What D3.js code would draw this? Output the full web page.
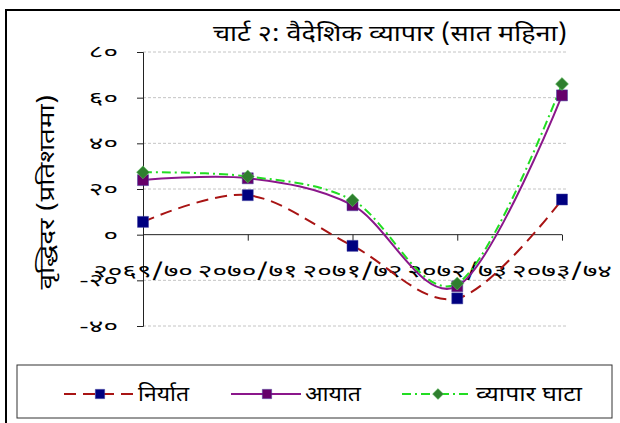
<!DOCTYPE html>
<html>
<head>
<meta charset="utf-8">
<script src="https://cdn.jsdelivr.net/npm/d3@7"></script>
<style>
  body { margin: 0; background: #fff; }
  text { font-family: "Noto Sans Devanagari", "Noto Sans", sans-serif; }
</style>
</head>
<body>
<div class="canvas"></div>
<script>
const width = 620, height = 423

// data (growth %, seven months)
const years = ['२०६९/७०', '२०७०/७१', '२०७१/७२', '२०७२/७३', '२०७३/७४']
const exportsGrowth = [5.6, 17.3, -4.9, -27.9, 15.4]
const importsGrowth = [23.9, 24.7, 12.9, -22.6, 61]
const deficitGrowth = [27.3, 25.5, 15.1, -21.4, 66]
const yTicks = [-40, -20, 0, 20, 40, 60, 80]
const yTickLabels = ['-४०', '-२०', '०', '२०', '४०', '६०', '८०']

const svg = d3.select('.canvas').append('svg').attr('width', width).attr('height', height)

// the reference font is a wide one, so stretch text to a width
function stretchTo(sel, w) {
    sel.attr('textLength', w).attr('lengthAdjust', 'spacingAndGlyphs')
}
function stretchBy(sel, f) {
    sel.each(function () {
        const w = this.getComputedTextLength()
        d3.select(this).attr('textLength', w * f).attr('lengthAdjust', 'spacingAndGlyphs')
    })
}

// outer frame
svg.append('rect')
    .attr('x', 6).attr('y', 10)
    .attr('width', 640).attr('height', 440)
    .attr('fill', 'none').attr('stroke', '#000').attr('stroke-width', 2)

const x = d3.scalePoint().domain(years).range([143, 562])
const y = d3.scaleLinear().domain([-40, 80]).range([326, 52])

// gridlines
svg.append('g').selectAll('line').data(yTicks.filter(d => d !== 0)).enter()
    .append('line')
    .attr('x1', 143).attr('x2', 566)
    .attr('y1', d => y(d)).attr('y2', d => y(d))
    .attr('stroke', '#c4c4c4').attr('stroke-dasharray', '3,2')

// y axis
const yAxisG = svg.append('g').attr('transform', 'translate(143,0)')
yAxisG.call(d3.axisLeft(y).tickValues(yTicks).tickSize(6).tickPadding(19)
    .tickFormat((d, i) => yTickLabels[i]))
yAxisG.select('.domain').attr('stroke', '#222')
yAxisG.selectAll('.tick line').attr('stroke', '#222')
yAxisG.selectAll('text').attr('font-size', 17).attr('fill', '#000')
    .style('font-family', '"Noto Sans Devanagari", "Noto Sans", sans-serif')
stretchBy(yAxisG.selectAll('text'), 1.65)

// x axis on zero line
const xAxisG = svg.append('g').attr('transform', `translate(0,${y(0)})`)
xAxisG.call(d3.axisBottom(x).tickSize(6).tickSizeOuter(0).tickFormat(() => ''))
xAxisG.select('.domain').attr('stroke', '#222').attr('d', `M143,0H562`)
xAxisG.selectAll('.tick line').attr('stroke', '#222')

const xLabels = svg.append('g').selectAll('text').data(years).enter()
    .append('text')
    .attr('x', d => x(d)).attr('y', 277)
    .attr('text-anchor', 'middle')
    .attr('font-size', 18)
    .text(d => d)
stretchTo(xLabels, 100)

const line = d3.line()
    .x((d, i) => x(years[i]))
    .y(d => y(d))
    .curve(d3.curveCardinal.tension(0))

const series = [
    { name: 'निर्यात', values: exportsGrowth, stroke: '#a81414', dash: '12,7', marker: 'square', fill: '#000080', textW: 51 },
    { name: 'आयात', values: importsGrowth, stroke: '#8b178b', dash: null, marker: 'square', fill: '#66006a', textW: 56 },
    { name: 'व्यापार घाटा', values: deficitGrowth, stroke: '#22dd22', dash: '9,4,2,4', marker: 'diamond', fill: '#2f7f2f', textW: 106 }
]

const symSquare = d3.symbol().type(d3.symbolSquare).size(121)
const symDiamond = d3.symbol().type(d3.symbolSquare).size(84)

function drawMarker(g, s, cx, cy, scale) {
    const k = scale || 1
    if (s.marker === 'square') {
        g.append('path').attr('d', symSquare())
            .attr('transform', `translate(${cx},${cy}) scale(${k})`)
            .attr('fill', s.fill).attr('stroke', '#4040a0').attr('stroke-width', 0.5)
    } else {
        g.append('path').attr('d', symDiamond())
            .attr('transform', `translate(${cx},${cy}) rotate(45) scale(${k})`)
            .attr('fill', s.fill).attr('stroke', '#6c6').attr('stroke-width', 0.5)
    }
}

series.forEach(s => {
    svg.append('path').datum(s.values)
        .attr('d', line)
        .attr('fill', 'none')
        .attr('stroke', s.stroke)
        .attr('stroke-width', 2)
        .attr('stroke-dasharray', s.dash)
})

series.forEach(s => {
    const g = svg.append('g')
    s.values.forEach((v, i) => drawMarker(g, s, x(years[i]), y(v)))
})

// title
const title = svg.append('text')
    .attr('x', 390).attr('y', 41)
    .attr('text-anchor', 'middle')
    .attr('font-size', 23)
    .text('चार्ट २: वैदेशिक व्यापार (सात महिना)')
stretchTo(title, 354)

// y axis label
const yLabel = svg.append('text')
    .attr('transform', 'translate(54,192) rotate(-90)')
    .attr('text-anchor', 'middle')
    .attr('font-size', 21)
    .text('वृद्धिदर  (प्रतिशतमा)')
stretchTo(yLabel, 195)

// legend
svg.append('rect')
    .attr('x', 17).attr('y', 365).attr('width', 595).attr('height', 53)
    .attr('fill', '#fff').attr('stroke', '#333').attr('stroke-width', 1)

const legendX = [64, 231, 402]
series.forEach((s, i) => {
    const g = svg.append('g').attr('transform', `translate(${legendX[i]},394)`)
    g.append('line').attr('x1', 0).attr('x2', 70).attr('y1', 0).attr('y2', 0)
        .attr('stroke', s.stroke).attr('stroke-width', 2)
        .attr('stroke-dasharray', s.dash)
    drawMarker(g, s, 36, 0, 0.85)
    const t = g.append('text').attr('x', 74).attr('y', 7)
        .attr('font-size', 21)
        .text(s.name)
    stretchTo(t, s.textW)
})
</script>
</body>
</html>
